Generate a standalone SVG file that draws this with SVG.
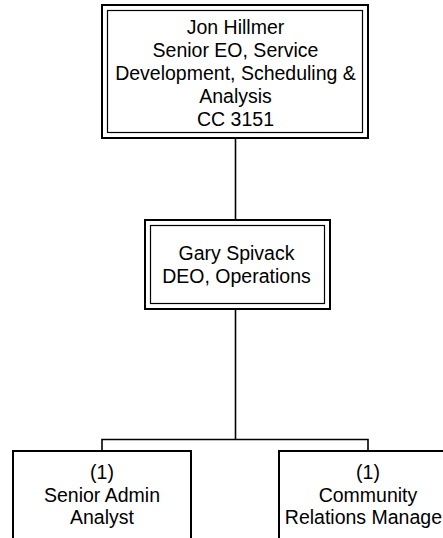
<svg xmlns="http://www.w3.org/2000/svg" width="443" height="538" viewBox="0 0 443 538">
  <style>
    .outer { fill: none; stroke: #000; stroke-width: 2; }
    .inner { fill: none; stroke: #000; stroke-width: 1.2; }
    .box { fill: #fff; stroke: #000; stroke-width: 2; }
    .conn { fill: none; stroke: #000; stroke-width: 1.6; }
    text { font-family: "Liberation Sans", Arial, sans-serif; font-size: 19.5px; fill: #000; text-anchor: middle; }
  </style>
  <rect width="443" height="538" fill="#fff"/>
  <g id="connectors">
    <line class="conn" x1="235.5" y1="138" x2="235.5" y2="220"/>
    <line class="conn" x1="235.5" y1="309" x2="235.5" y2="439.5"/>
    <polyline class="conn" points="102,451 102,439.5 368,439.5 368,451"/>
  </g>
  <g id="node-jon-hillmer">
    <rect x="102" y="5" width="266" height="133" fill="#fff"/>
    <rect class="outer" x="102" y="5" width="266" height="133"/>
    <rect class="inner" x="107.5" y="10.5" width="255" height="122"/>
    <text x="235.5" y="34">Jon Hillmer</text>
    <text x="235.5" y="57">Senior EO, Service</text>
    <text x="235.5" y="80">Development, Scheduling &amp;</text>
    <text x="235.5" y="103">Analysis</text>
    <text x="235.5" y="126">CC 3151</text>
  </g>
  <g id="node-gary-spivack">
    <rect x="145" y="220" width="185" height="89" fill="#fff"/>
    <rect class="outer" x="145" y="220" width="185" height="89"/>
    <rect class="inner" x="150.5" y="225.5" width="174" height="78"/>
    <text x="236.5" y="260">Gary Spivack</text>
    <text x="236.5" y="283">DEO, Operations</text>
  </g>
  <g id="node-senior-admin-analyst">
    <rect class="box" x="13" y="451" width="178" height="100"/>
    <text x="102" y="479">(1)</text>
    <text x="102" y="501.5">Senior Admin</text>
    <text x="102" y="524">Analyst</text>
  </g>
  <g id="node-community-relations-manager">
    <rect class="box" x="279" y="451" width="178" height="100"/>
    <text x="368" y="479">(1)</text>
    <text x="368" y="501.5">Community</text>
    <text x="442" y="524" style="text-anchor: end">Relations Manage</text>
  </g>
</svg>
